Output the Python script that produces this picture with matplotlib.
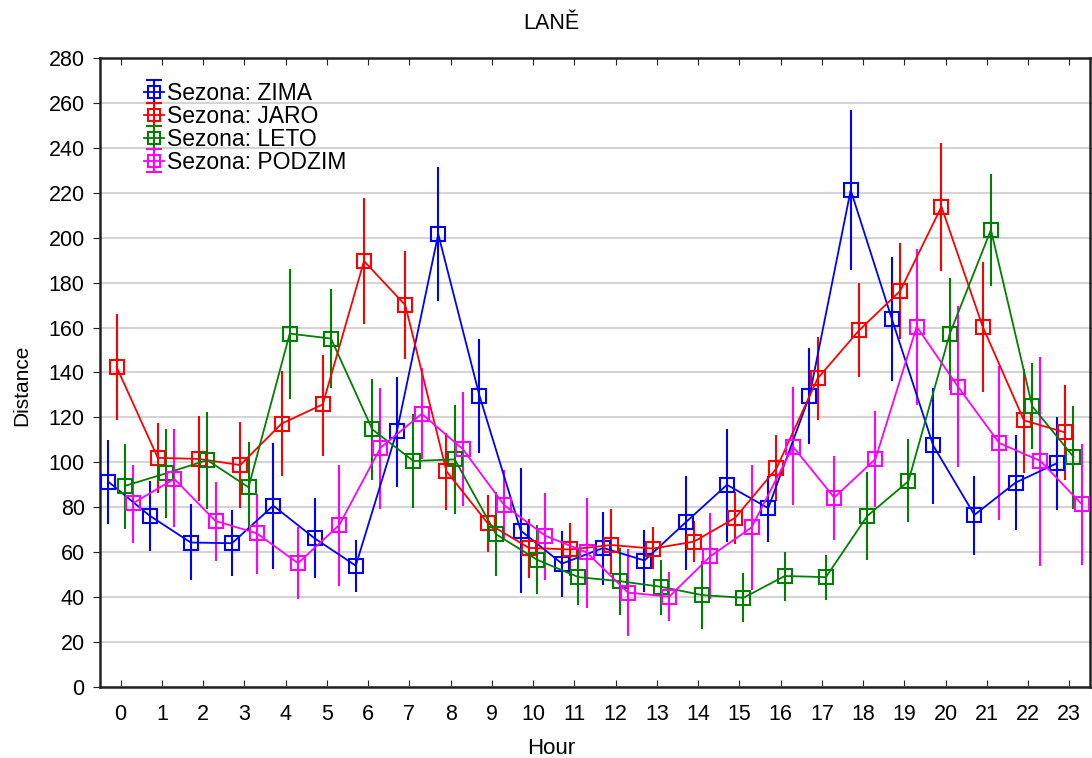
import numpy as np
import matplotlib.pyplot as plt


# ************************************************************
# Data: mean distance per hour with confidence limits
# ************************************************************

hours = list(range(24))

zima_mean = [91.4, 76.3, 64.3, 64.0, 80.7, 66.2, 54.0, 114.0, 201.6, 129.6, 69.6, 54.9,
             61.9, 56.3, 73.3, 90.0, 79.6, 129.5, 221.2, 163.7, 107.5, 76.6, 91.0, 99.6]
zima_low = [72.4, 60.7, 47.4, 49.5, 52.4, 48.4, 42.5, 89.2, 171.8, 104.0, 42.0, 40.2,
            45.6, 42.3, 52.2, 64.4, 64.7, 108.0, 185.4, 136.0, 81.6, 58.9, 69.7, 78.9]
zima_high = [110.0, 91.8, 81.3, 78.7, 108.7, 84.1, 65.5, 138.1, 231.3, 155.0, 97.3, 69.4,
             78.0, 69.9, 94.1, 115.0, 94.1, 150.9, 256.9, 191.6, 132.9, 94.0, 112.0, 120.0]

jaro_mean = [142.5, 102.0, 101.5, 98.8, 117.2, 125.8, 189.6, 170.0, 96.0, 72.9, 61.9, 61.2,
             63.2, 61.6, 64.7, 75.3, 97.3, 137.4, 158.7, 176.3, 213.8, 160.4, 118.7, 113.3]
jaro_low = [119.0, 86.5, 83.0, 79.5, 94.0, 103.0, 161.5, 145.8, 78.6, 59.9, 48.5, 49.5,
            50.1, 52.3, 55.7, 63.6, 82.8, 118.7, 137.9, 154.7, 185.1, 131.2, 95.3, 92.3]
jaro_high = [166.2, 117.6, 120.6, 118.0, 140.7, 148.0, 217.8, 194.1, 113.2, 85.6, 74.9, 73.1,
             79.1, 71.0, 73.9, 86.6, 112.0, 155.7, 179.8, 197.5, 242.2, 189.1, 141.7, 134.4]

leto_mean = [89.5, 95.1, 101.0, 88.9, 157.3, 155.1, 114.7, 100.6, 101.3, 68.0, 56.6, 48.9,
             47.1, 44.6, 40.9, 39.7, 49.4, 48.9, 76.1, 91.6, 157.1, 203.5, 125.0, 102.5]
leto_low = [70.5, 75.4, 79.4, 70.0, 128.4, 132.9, 92.1, 79.5, 77.2, 49.2, 41.3, 36.7,
            32.1, 32.1, 25.8, 28.8, 38.2, 38.5, 56.4, 73.3, 132.0, 178.4, 106.1, 79.4]
leto_high = [108.0, 115.0, 122.5, 109.0, 186.0, 177.2, 136.9, 121.3, 125.4, 86.7, 71.9, 61.2,
             61.9, 56.6, 56.1, 50.6, 60.2, 58.9, 95.8, 110.3, 182.1, 228.2, 144.0, 125.3]

podzim_mean = [81.8, 92.6, 73.9, 68.4, 55.1, 72.1, 106.5, 121.6, 105.8, 80.9, 67.3, 59.9,
               42.0, 40.2, 58.2, 71.1, 107.0, 84.3, 101.5, 160.4, 133.7, 108.6, 100.6, 81.4]
podzim_low = [64.3, 71.4, 56.1, 50.5, 39.1, 45.0, 79.1, 101.4, 80.6, 65.4, 47.7, 35.1,
              22.6, 29.3, 39.2, 43.2, 80.8, 65.6, 79.9, 125.7, 98.1, 74.4, 54.0, 54.4]
podzim_high = [99.0, 114.7, 91.4, 85.8, 71.4, 98.8, 133.3, 141.9, 131.1, 96.4, 86.4, 84.1,
               61.2, 51.2, 77.3, 99.0, 133.4, 102.6, 122.7, 195.1, 169.4, 142.9, 147.0, 108.3]

labels = ["Sezona: ZIMA", "Sezona: JARO", "Sezona: LETO", "Sezona: PODZIM"]
colors = ["#0000ff", "#ff0000", "#008000", "#ff00ff"]
offsets = [-0.3, -0.1, 0.1, 0.3]

series = [
    (zima_mean, zima_low, zima_high),
    (jaro_mean, jaro_low, jaro_high),
    (leto_mean, leto_low, leto_high),
    (podzim_mean, podzim_low, podzim_high),
]


# ************************************************************
# Plot
# ************************************************************

plt.rcParams['font.family'] = ['Liberation Sans', 'DejaVu Sans']

fig = plt.figure(figsize=(10.92, 7.58), dpi=100)
ax = fig.add_axes([0.0916, 0.0937, 0.9065, 0.8298])

handles = []

for (mean, low, high), label, color, dx in zip(series, labels, colors, offsets):

    mean = np.array(mean)
    yerr = [mean - np.array(low), np.array(high) - mean]
    x = np.array(hours) + dx

    ax.errorbar(
        x,
        mean,
        yerr=yerr,
        color=color,
        linewidth=1.3,
        elinewidth=1.5,
        capsize=0,
        marker='s',
        markersize=9.5,
        markerfacecolor='none',
        markeredgecolor=color,
        markeredgewidth=1.5,
        zorder=3
    )

    # legend proxy with caps on the bars
    h = ax.errorbar(
        [np.nan],
        [np.nan],
        yerr=[1],
        color=color,
        linewidth=1.3,
        elinewidth=1.5,
        capsize=6,
        capthick=1.5,
        marker='s',
        markersize=8,
        markerfacecolor='none',
        markeredgecolor=color,
        markeredgewidth=1.5,
        label=label
    )
    handles.append(h)

ax.set_xlim(-0.5, 23.5)
ax.set_ylim(0, 280)
ax.set_xticks(hours)
ax.set_yticks(np.arange(0, 281, 20))

ax.yaxis.grid(True, color='#d4d4d4', linewidth=1.5)
ax.set_axisbelow(True)

for side in ['left', 'bottom', 'right', 'top']:
    ax.spines[side].set_color('#222222')
    ax.spines[side].set_linewidth(1.8)

ax.tick_params(axis='y', direction='out', left=True, right=True, length=5,
               labelsize=15.5, color='#222222', pad=6)
ax.tick_params(axis='x', direction='in', bottom=True, top=True, length=5,
               labelsize=15.5, color='#222222', pad=12)

# titles placed on the figure, centred on the page
fig.text(0.5045, 0.9613, "LANĚ", fontsize=15.5, ha='center', va='baseline')
fig.text(0.5045, 0.0049, "Hour", fontsize=16, ha='center', va='baseline')
fig.text(0.0201, 0.4914, "Distance", fontsize=15, rotation=90,
         ha='center', va='center')

ax.legend(
    handles=handles,
    labels=labels,
    loc='upper left',
    bbox_to_anchor=(0.035, 0.977),
    frameon=False,
    fontsize=16.5,
    handlelength=0.9,
    handletextpad=0.1,
    labelspacing=0.0,
    borderaxespad=0
)

fig.savefig("out.png", dpi=100)
